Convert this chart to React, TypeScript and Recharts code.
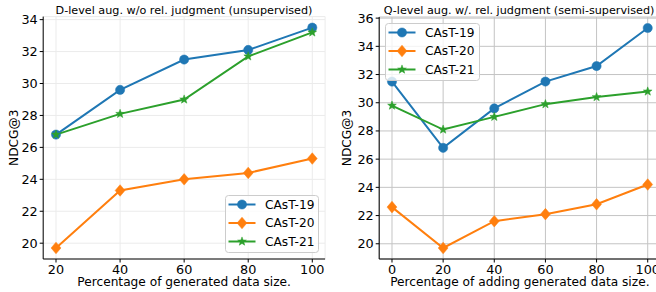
import React from 'react';
import { LineChart, Line, XAxis, YAxis, CartesianGrid, Label } from 'recharts';

const xLeft = [20, 40, 60, 80, 100];
const leftCast19 = [26.8, 29.6, 31.5, 32.1, 33.5];
const leftCast20 = [19.7, 23.3, 24.0, 24.4, 25.3];
const leftCast21 = [26.8, 28.1, 29.0, 31.7, 33.2];

const xRight = [0, 20, 40, 60, 80, 100];
const rightCast19 = [31.5, 26.8, 29.6, 31.5, 32.6, 35.3];
const rightCast20 = [22.6, 19.7, 21.6, 22.1, 22.8, 24.2];
const rightCast21 = [29.8, 28.1, 29.0, 29.9, 30.4, 30.8];

const leftYTicks = [20, 22, 24, 26, 28, 30, 32, 34];
const rightYTicks = [20, 22, 24, 26, 28, 30, 32, 34, 36];

const seriesNames = ['CAsT-19', 'CAsT-20', 'CAsT-21'];
const colors = ['#1f77b4', '#ff7f0e', '#2ca02c'];
const shapes = ['circle', 'diamond', 'star'];

const leftTitle = 'D-level aug. w/o rel. judgment (unsupervised)';
const rightTitle = 'Q-level aug. w/. rel. judgment (semi-supervised)';
const leftXLabel = 'Percentage of generated data size.';
const rightXLabel = 'Percentage of adding generated data size.';
const yLabel = 'NDCG@3';

const FONT = '"DejaVu Sans", sans-serif';

const leftData = xLeft.map((x, i) => ({ x, c19: leftCast19[i], c20: leftCast20[i], c21: leftCast21[i] }));
const rightData = xRight.map((x, i) => ({ x, c19: rightCast19[i], c20: rightCast20[i], c21: rightCast21[i] }));

function starPoints(cx: number, cy: number, R: number, r: number) {
  const pts: string[] = [];
  for (let k = 0; k < 10; k++) {
    const ang = -Math.PI / 2 + (k * Math.PI) / 5;
    const rad = k % 2 === 0 ? R : r;
    pts.push(`${cx + rad * Math.cos(ang)},${cy + rad * Math.sin(ang)}`);
  }
  return pts.join(' ');
}

function Marker({ shape, cx, cy, color }: { shape: string; cx: number; cy: number; color: string }) {
  if (cx == null || cy == null) return null;
  if (shape === 'circle') return <circle cx={cx} cy={cy} r={4.6} fill={color} stroke={color} strokeWidth={0.5} />;
  if (shape === 'diamond') {
    const h = 5.8;
    return (
      <polygon
        points={`${cx},${cy - h} ${cx + h * 0.85},${cy} ${cx},${cy + h} ${cx - h * 0.85},${cy}`}
        fill={color}
        stroke={color}
        strokeWidth={0.5}
      />
    );
  }
  return <polygon points={starPoints(cx, cy, 4.6, 1.9)} fill={color} stroke={color} strokeWidth={0.5} />;
}

function makeDot(idx: number) {
  return (p: any) => <Marker key={`d${idx}-${p.index}`} shape={shapes[idx]} cx={p.cx} cy={p.cy} color={colors[idx]} />;
}

function LegendBox({ left, top, width }: { left: number; top: number; width: number }) {
  const rows = [9.5, 28, 46.5];
  return (
    <svg style={{ position: 'absolute', left, top }} width={width + 2} height={60}>
      <rect x={0.5} y={0.5} width={width} height={57} rx={3} ry={3} fill="rgba(255,255,255,0.8)" stroke="#cccccc" strokeWidth={1} />
      {seriesNames.map((n, i) => (
        <g key={n}>
          <line x1={3.5} x2={30.5} y1={rows[i]} y2={rows[i]} stroke={colors[i]} strokeWidth={2} />
          <Marker shape={shapes[i]} cx={17} cy={rows[i]} color={colors[i]} />
          <text x={40} y={rows[i]} dy="0.36em" fontFamily={FONT} fontSize={12.2} fill="#000">
            {n}
          </text>
        </g>
      ))}
    </svg>
  );
}

function Title({ cx, text }: { cx: number; text: string }) {
  return (
    <svg style={{ position: 'absolute', left: cx - 150, top: 0 }} width={300} height={18}>
      <text x={150} y={14.2} textAnchor="middle" fontFamily={FONT} fontSize={11.2} fill="#000">
        {text}
      </text>
    </svg>
  );
}

const tickStyle = { fontSize: 12.8, fill: '#000', fontFamily: FONT };

function Panel({
  data,
  xDomain,
  xTicks,
  yDomain,
  yTicks,
  xLabel,
  gridColor,
  width,
  yAxisWidth,
  marginTop,
  marginRight,
  yLabelOffset,
}: any) {
  return (
    <LineChart
      width={width}
      height={292}
      data={data}
      margin={{ top: marginTop, right: marginRight, bottom: 0, left: 0 }}
      style={{ fontFamily: FONT }}
    >
      <CartesianGrid stroke={gridColor} strokeWidth={1} />
      <XAxis
        dataKey="x"
        type="number"
        domain={xDomain}
        ticks={xTicks}
        allowDataOverflow
        height={33}
        tick={tickStyle}
        tickSize={3.5}
        tickMargin={2}
        tickLine={{ stroke: '#000' }}
        axisLine={{ stroke: '#000', strokeWidth: 1 }}
      >
        <Label value={xLabel} position="insideBottom" offset={6.2} style={{ fontSize: 12.2, fill: '#000', fontFamily: FONT }} />
      </XAxis>
      <XAxis
        xAxisId="top"
        orientation="top"
        dataKey="x"
        type="number"
        domain={xDomain}
        allowDataOverflow
        height={0}
        tick={false}
        tickLine={false}
        axisLine={{ stroke: '#000', strokeWidth: 1 }}
      />
      <YAxis
        type="number"
        domain={yDomain}
        ticks={yTicks}
        allowDataOverflow
        width={yAxisWidth}
        tick={tickStyle}
        tickSize={3.5}
        tickMargin={2}
        tickLine={{ stroke: '#000' }}
        axisLine={{ stroke: '#000', strokeWidth: 1 }}
      >
        <Label
          value={yLabel}
          angle={-90}
          position="insideLeft"
          offset={yLabelOffset}
          style={{ fontSize: 12.2, fill: '#000', fontFamily: FONT, textAnchor: 'middle' }}
        />
      </YAxis>
      <YAxis
        yAxisId="r"
        orientation="right"
        type="number"
        domain={yDomain}
        allowDataOverflow
        width={0}
        tick={false}
        tickLine={false}
        axisLine={{ stroke: '#000', strokeWidth: 1 }}
      />
      {['c19', 'c20', 'c21'].map((k, i) => (
        <Line
          key={k}
          dataKey={k}
          name={seriesNames[i]}
          stroke={colors[i]}
          strokeWidth={2}
          type="linear"
          dot={makeDot(i)}
          activeDot={false}
          isAnimationActive={false}
        />
      ))}
    </LineChart>
  );
}

export default function App() {
  return (
    <div style={{ position: 'absolute', left: 0, top: 0, width: 656, height: 292, overflow: 'hidden', background: '#fff' }}>
      <div style={{ position: 'absolute', left: 0, top: 0 }}>
        <Panel
          data={leftData}
          xDomain={[16, 104]}
          xTicks={xLeft}
          yDomain={[19.01, 34.19]}
          yTicks={leftYTicks}
          xLabel={leftXLabel}
          gridColor="#ebebeb"
          width={330}
          yAxisWidth={43.2}
          marginTop={16.6}
          marginRight={4.9}
          yLabelOffset={13.3}
        />
      </div>
      <div style={{ position: 'absolute', left: 326, top: 0 }}>
        <Panel
          data={rightData}
          xDomain={[-5, 105]}
          xTicks={xRight}
          yDomain={[18.92, 36.08]}
          yTicks={rightYTicks}
          xLabel={rightXLabel}
          gridColor="#c4c4c4"
          width={340}
          yAxisWidth={53.2}
          marginTop={17}
          marginRight={5.5}
          yLabelOffset={20.7}
        />
      </div>
      <Title cx={184} text={leftTitle} />
      <Title cx={519} text={rightTitle} />
      <LegendBox left={225} top={195} width={93} />
      <LegendBox left={385} top={23} width={94} />
    </div>
  );
}
